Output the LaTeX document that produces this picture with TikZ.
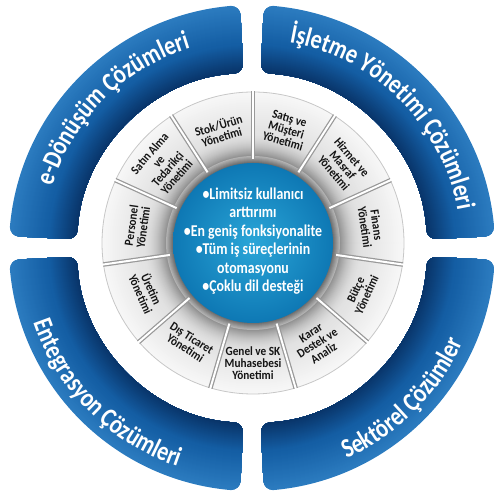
\documentclass[tikz,border=0pt]{standalone}
\usepackage{fontspec}
\setmainfont{Carlito}
\newfontfamily\arcfont[FakeStretch=0.82]{Carlito}
\newfontfamily\condfont[FakeStretch=0.84]{Carlito}
\newfontfamily\tilefont[FakeStretch=0.9]{Carlito}
\usetikzlibrary{decorations.text}
\definecolor{arcdark}{RGB}{8,50,102}
\definecolor{arcmid}{RGB}{20,94,164}
\definecolor{arclight}{RGB}{44,124,192}
\definecolor{diskin}{RGB}{42,166,216}
\definecolor{diskout}{RGB}{14,120,180}
\definecolor{tiletext}{RGB}{20,20,20}
\tikzset{
  tile/.style={font=\tilefont\bfseries\fontsize{12.5}{12}\selectfont, text=tiletext, align=center, inner sep=0pt},
  centertext/.style={font=\condfont\bfseries\fontsize{16.5}{18.5}\selectfont, text=white, align=center, inner sep=0pt},
  sepg/.style={line width=4.5pt, draw=black!40},
  sepw/.style={line width=2pt, draw=white},
  arctext/.style={decorate, decoration={text along path, text align=center, text color=white, text={|\arcfont\bfseries\fontsize{27}{27}\selectfont|#1}}},
}
\begin{document}
\begin{tikzpicture}[x=1pt,y=1pt]
\useasboundingbox (0,0) rectangle (500,500);
\coordinate (A) at (252,252);
\coordinate (C) at (253,257);
% blue outer arcs
\foreach \a in {0,90,180,270}{
  \begin{scope}
  \clip[rounded corners=10pt] ([shift={(\a+2.8:243)}]A) arc[start angle=\a+2.8, end angle=\a+87.2, radius=243]
     -- ([shift={(\a+87.2:175)}]A) arc[start angle=\a+87.2, end angle=\a+2.8, radius=175] -- cycle;
  \foreach \r in {243,242,...,205}{
    \pgfmathsetmacro\p{(\r-205)/38*100}
    \fill[arclight!\p!arcmid] (A) circle (\r);
  }
  \foreach \r in {204,203,...,175}{
    \pgfmathsetmacro\p{(\r-175)/29*100}
    \fill[arcmid!\p!arcdark] (A) circle (\r);
  }
  \end{scope}
}
\path[arctext={e-Dönüşüm Çözümleri}] ([shift={(180:209)}]A) arc[start angle=180, end angle=90, radius=209];
\path[arctext={İşletme Yönetimi Çözümleri}] ([shift={(90:209)}]A) arc[start angle=90, end angle=0, radius=209];
\path[arctext={Entegrasyon Çözümleri}] ([shift={(180:231)}]A) arc[start angle=180, end angle=270, radius=231];
\path[arctext={Sektörel Çözümler}] ([shift={(270:231)}]A) arc[start angle=270, end angle=360, radius=231];
% gray tile ring
\foreach \r in {151,150,...,87}{
  \pgfmathsetmacro\k{\r>111.5 ? 3+8*(151-\r)/39 : 11+34*((112-\r)/25)^2}
  \fill[black!\k!white] (C) circle (\r);
}
\foreach \r in {87,86,...,79}{
  \pgfmathsetmacro\k{30+34*(87-\r)/8}
  \fill[black!\k!white] (C) circle (\r);
}
\draw[black!22, line width=0.8pt] (C) circle (151);
\foreach \i in {0,...,10}{
  \pgfmathsetmacro\b{253.636+\i*32.7273}
  \draw[sepg] ([shift={(\b:84)}]C) -- ([shift={(\b:151.5)}]C);
  \draw[sepw] ([shift={(\b:84)}]C) -- ([shift={(\b:153)}]C);
}
% central disk
\shade[inner color=diskin, outer color=diskout] (C) circle (80);
\node[centertext] (ctr) at ([yshift=2]C) {\textbullet Limitsiz kullanıcı\\arttırımı\\\textbullet En geniş fonksiyonalite\\\textbullet Tüm iş süreçlerinin\\otomasyonu\\\textbullet Çoklu dil desteği};
% tile labels
\node[tile, rotate=0]      (t0)  at ([shift={(270:120)}]C)     {Genel ve SK\\Muhasebesi\\Yönetimi};
\node[tile, rotate=32.73]  (t1)  at ([shift={(302.73:119)}]C)  {Karar\\Destek ve\\Analiz};
\node[tile, rotate=65.45]  (t2)  at ([shift={(335.45:119)}]C)  {Bütçe\\Yönetimi};
\node[tile, rotate=-81.82] (t3)  at ([shift={(8.18:119)}]C)    {Finans\\Yönetimi};
\node[tile, rotate=-49.09] (t4)  at ([shift={(40.91:119)}]C)   {Hizmet ve\\Masraf\\Yönetimi};
\node[tile, rotate=-16.36] (t5)  at ([shift={(73.64:118)}]C)   {Satış ve\\Müşteri\\Yönetimi};
\node[tile, rotate=16.36]  (t6)  at ([shift={(106.36:117)}]C)  {Stok/Ürün\\Yönetimi};
\node[tile, rotate=49.09]  (t7)  at ([shift={(139.09:119)}]C)  {Satın Alma\\ve\\Tedarikçi\\Yönetimi};
\node[tile, rotate=81.82]  (t8)  at ([shift={(171.82:117)}]C)  {Personel\\Yönetimi};
\node[tile, rotate=-65.45] (t9)  at ([shift={(204.55:117)}]C)  {Üretim\\Yönetimi};
\node[tile, rotate=-32.73] (t10) at ([shift={(237.27:119)}]C)  {Dış Ticaret\\Yönetimi};
\end{tikzpicture}
\end{document}
